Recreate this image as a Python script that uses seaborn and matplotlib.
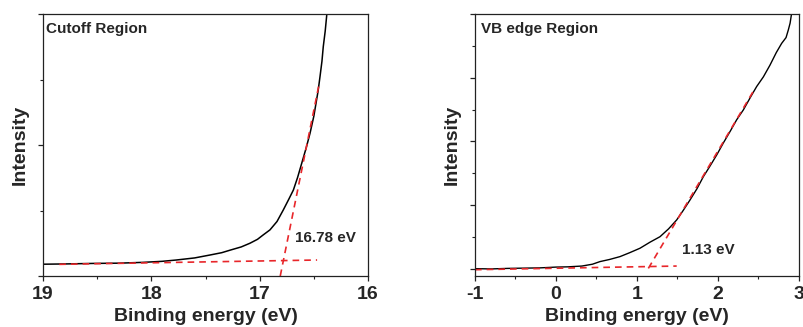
import numpy as np
import pandas as pd
import matplotlib
matplotlib.use("Agg")
import matplotlib.pyplot as plt
import seaborn as sns
from matplotlib.ticker import MultipleLocator, FixedLocator, NullFormatter

# ---------------- data ----------------
# Cutoff region: binding energy (eV) vs intensity (arb., 0..100 of axis)
cut_x = [19.00, 18.80, 18.54, 18.30, 18.08, 17.90, 17.77, 17.60, 17.46, 17.35,
         17.27, 17.17, 17.09, 17.02, 16.97, 16.905, 16.84, 16.782, 16.73, 16.689,
         16.65, 16.612, 16.57, 16.535, 16.50, 16.480, 16.46, 16.443, 16.425,
         16.413, 16.395, 16.381]
cut_y = [4.5, 4.6, 4.8, 4.9, 5.2, 5.6, 6.1, 6.9, 8.0, 8.9,
         9.9, 11.1, 12.5, 14.0, 15.6, 17.6, 20.8, 25.2, 29.4, 32.8,
         37.6, 43.0, 49.0, 54.5, 61.0, 65.9, 70.8, 76.1, 82.0,
         87.5, 93.5, 99.5]
cut_base_x = [18.85, 16.47]
cut_base_y = [4.45, 6.10]
cut_edge_x = [16.81, 16.45]
cut_edge_y = [0.0, 73.5]
cut_value = "16.78 eV"

# VB edge region
vb_x = [-1.00, -0.80, -0.60, -0.40, -0.20, 0.00, 0.15, 0.32, 0.45, 0.543,
        0.66, 0.79, 0.91, 1.037, 1.16, 1.284, 1.39, 1.49, 1.57, 1.654,
        1.74, 1.819, 1.90, 1.984, 2.07, 2.148, 2.23, 2.313, 2.40, 2.477,
        2.56, 2.642, 2.72, 2.786, 2.84, 2.868, 2.89, 2.909]
vb_y = [2.8, 2.7, 2.9, 3.0, 3.1, 3.4, 3.5, 3.8, 4.5, 5.5,
        6.3, 7.4, 8.9, 10.6, 12.9, 15.0, 18.0, 21.4, 25.0, 29.0,
        33.3, 37.9, 41.9, 46.2, 51.0, 55.1, 59.6, 63.4, 68.2, 72.3,
        76.0, 80.5, 85.3, 88.8, 91.0, 93.9, 96.5, 100.3]
vb_base_x = [-1.00, 1.49]
vb_base_y = [2.4, 3.8]
vb_edge_x = [1.14, 2.432]
vb_edge_y = [2.9, 70.3]
vb_value = "1.13 eV"

cut_xticks = [19, 18, 17, 16]
vb_xticks = [-1, 0, 1, 2, 3]

# ---------------- style ----------------
sns.set_style("ticks")
plt.rcParams["font.family"] = ["Liberation Sans", "DejaVu Sans"]
plt.rcParams["font.weight"] = "bold"
plt.rcParams["axes.labelweight"] = "bold"
plt.rcParams["axes.unicode_minus"] = False

fig = plt.figure(figsize=(8.04, 3.27), dpi=100)
ax1 = fig.add_axes([43 / 804, 51 / 327, 325 / 804, 262 / 327])
ax2 = fig.add_axes([475 / 804, 51 / 327, 324 / 804, 262 / 327])

red = "#e8262a"
dash = (0, (4, 3))

def curve(ax, x, y, **kw):
    sns.lineplot(x=x, y=y, ax=ax, sort=False, estimator=None, **kw)

# left panel
curve(ax1, cut_x, cut_y, color="black", linewidth=1.1)
curve(ax1, cut_base_x, cut_base_y, color=red, linewidth=1.2, linestyle=dash)
curve(ax1, cut_edge_x, cut_edge_y, color=red, linewidth=1.2, linestyle=dash)
ax1.set_xlim(19, 16)
ax1.set_ylim(0, 100)
ax1.set_xticks(cut_xticks)
ax1.xaxis.set_minor_locator(MultipleLocator(0.5))
ax1.set_yticks([0, 50, 100])
ax1.yaxis.set_minor_locator(FixedLocator([25, 75]))
ax1.text(18.97, 94.2, "Cutoff Region", fontsize=11, fontweight="bold", va="center", ha="left")
ax1.text(16.674, 14.4, cut_value, fontsize=11, fontweight="bold", va="center", ha="left")

# right panel
curve(ax2, vb_x, vb_y, color="black", linewidth=1.0)
curve(ax2, vb_base_x, vb_base_y, color=red, linewidth=1.2, linestyle=dash)
curve(ax2, vb_edge_x, vb_edge_y, color=red, linewidth=1.2, linestyle=dash)
ax2.set_xlim(-1, 3)
ax2.set_ylim(0, 100)
ax2.set_xticks(vb_xticks)
ax2.xaxis.set_minor_locator(MultipleLocator(0.5))
vb_ticks = [2.7 + 12.16 * k for k in range(9)]
ax2.yaxis.set_major_locator(FixedLocator(vb_ticks[::2]))
ax2.yaxis.set_minor_locator(FixedLocator(vb_ticks[1::2]))
ax2.text(-0.93, 94.2, "VB edge Region", fontsize=11, fontweight="bold", va="center", ha="left")
ax2.text(1.551, 9.9, vb_value, fontsize=11, fontweight="bold", va="center", ha="left")

for ax in (ax1, ax2):
    for s in ax.spines.values():
        s.set_visible(True)
        s.set_linewidth(0.9)
        s.set_color("#222222")
    ax.yaxis.set_major_formatter(NullFormatter())
    ax.tick_params(axis="both", which="major", direction="out", length=3.5, width=0.9,
                   labelsize=14, pad=4, top=False, right=False, color="#222222")
    ax.tick_params(axis="both", which="minor", direction="out", length=2, width=0.8,
                   top=False, right=False, color="#222222")
    for lab in ax.get_xticklabels():
        lab.set_fontweight("bold")
    ax.set_xlabel("Binding energy (eV)", fontsize=14, fontweight="bold", labelpad=3)
    ax.set_ylabel("Intensity", fontsize=14, fontweight="bold", labelpad=3)

fig.savefig("out.png", dpi=100)
